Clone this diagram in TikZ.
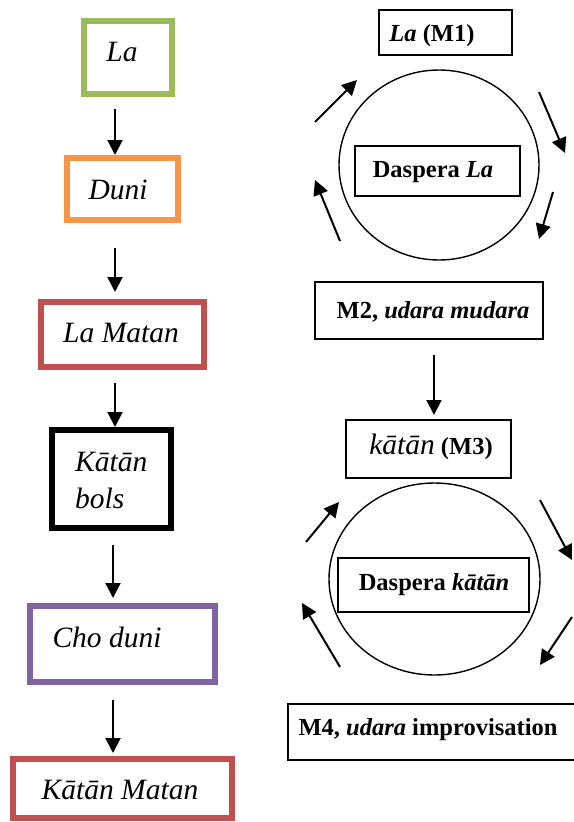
\documentclass[tikz,border=0pt]{standalone}
\usepackage{fontspec}
\setmainfont{Liberation Serif}
\usetikzlibrary{arrows.meta,shapes.geometric}

\definecolor{lagreen}{HTML}{9BBB59}
\definecolor{duniorange}{HTML}{F79646}
\definecolor{matanred}{HTML}{C0504D}
\definecolor{chopurple}{HTML}{8064A2}

\tikzset{
  flowbox/.style={draw, line width=6.5pt, inner sep=0pt, outer sep=0pt},
  thinbox/.style={draw, line width=1.4pt, inner sep=0pt, outer sep=0pt},
  cycle/.style={draw, ellipse, line width=1.4pt, inner sep=0pt},
  bigtext/.style={font=\fontsize{29.5}{34}\selectfont\itshape, inner sep=0pt},
  smalltext/.style={font=\fontsize{24.5}{29}\selectfont\bfseries, inner sep=0pt},
  flowarrow/.style={line width=2pt, -{Triangle[length=15pt,width=15pt]}},
}

\begin{document}
\begin{tikzpicture}[x=1pt,y=-1pt]
\useasboundingbox (0,0) rectangle (573,822);

% ---- left column: sequence of sections ----
\node[flowbox, draw=lagreen, minimum width=88pt, minimum height=73pt] (la) at (128,57.5) {};
\node[bigtext] (latext) at (122,52) {La};

\node[flowbox, draw=duniorange, minimum width=111pt, minimum height=62pt] (duni) at (122.5,189) {};
\node[bigtext] (dunitext) at (118,190) {Duni};

\node[flowbox, draw=matanred, minimum width=163pt, minimum height=65pt] (lamatan) at (122.5,334.5) {};
\node[bigtext] (lamatantext) at (121,333) {La Matan};

\node[flowbox, draw=black, minimum width=119pt, minimum height=98pt] (bols) at (111.5,479) {};
\node[bigtext, anchor=west] (bolstext1) at (75,462) {Kātān};
\node[bigtext, anchor=west] (bolstext2) at (75,498) {bols};

\node[flowbox, draw=chopurple, minimum width=185pt, minimum height=76pt] (choduni) at (122.5,644) {};
\node[bigtext] (chodunitext) at (107,637) {Cho duni};

\node[flowbox, draw=matanred, minimum width=219pt, minimum height=59pt] (katanmatan) at (122.5,788.5) {};
\node[bigtext] (katanmatantext) at (120,790) {Kātān Matan};

\coordinate (a1s) at (115,109); \coordinate (a1e) at (115,155);
\coordinate (a2s) at (115,248); \coordinate (a2e) at (115,292);
\coordinate (a3s) at (115,383); \coordinate (a3e) at (115,427);
\coordinate (a4s) at (113,545); \coordinate (a4e) at (113,598);
\coordinate (a5s) at (113,700); \coordinate (a5e) at (113,753);
\draw[flowarrow] (a1s) -- (a1e);
\draw[flowarrow] (a2s) -- (a2e);
\draw[flowarrow] (a3s) -- (a3e);
\draw[flowarrow] (a4s) -- (a4e);
\draw[flowarrow] (a5s) -- (a5e);

% ---- right column: first cycle ----
\node[thinbox, minimum width=133pt, minimum height=45pt] (m1) at (445.5,32.5) {};
\node[smalltext] (m1text) at (432,36) {\textit{La} (M1)};

\node[cycle, minimum width=200pt, minimum height=190pt] (cycleone) at (439,165) {};
\node[thinbox, minimum width=165pt, minimum height=50pt] (dasperala) at (437.5,171) {};
\node[smalltext] (dasperalatext) at (433,172) {Daspera \textit{La}};

\coordinate (c1a) at (315,122); \coordinate (c1b) at (357,80);
\coordinate (c1c) at (539,92);  \coordinate (c1d) at (565,153);
\coordinate (c1e) at (553,192); \coordinate (c1f) at (539,239);
\coordinate (c1g) at (340,241); \coordinate (c1h) at (315,180);
\draw[flowarrow] (c1a) -- (c1b);
\draw[flowarrow] (c1c) -- (c1d);
\draw[flowarrow] (c1e) -- (c1f);
\draw[flowarrow] (c1g) -- (c1h);

\node[thinbox, minimum width=228pt, minimum height=57pt] (m2) at (429,310.5) {};
\node[smalltext] (m2text) at (433,312) {M2, \textit{udara mudara}};

\coordinate (m2s) at (434,355); \coordinate (m2e) at (434,415);
\draw[flowarrow] (m2s) -- (m2e);

% ---- right column: second cycle ----
\node[thinbox, minimum width=165pt, minimum height=58pt] (m3) at (428.5,449) {};
\node[smalltext] (m3text) at (431,447) {{\fontsize{29.5}{34}\selectfont\mdseries\itshape kātān} (M3)};

\node[cycle, minimum width=211pt, minimum height=192pt] (cycletwo) at (434.5,579) {};
\node[thinbox, minimum width=191pt, minimum height=54pt] (dasperakatan) at (433.5,585) {};
\node[smalltext] (dasperakatantext) at (434,585) {Daspera \textit{kātān}};

\coordinate (c2a) at (306,542); \coordinate (c2b) at (339,502);
\coordinate (c2c) at (540,500); \coordinate (c2d) at (572,560);
\coordinate (c2e) at (572,617); \coordinate (c2f) at (540,665);
\coordinate (c2g) at (340,667); \coordinate (c2h) at (302,603);
\draw[flowarrow] (c2a) -- (c2b);
\draw[flowarrow] (c2c) -- (c2d);
\draw[flowarrow] (c2e) -- (c2f);
\draw[flowarrow] (c2g) -- (c2h);

\node[thinbox, minimum width=302pt, minimum height=56pt] (m4) at (439,732) {};
\node[smalltext] (m4text) at (428,730) {M4, \textit{udara} improvisation};
\end{tikzpicture}
\end{document}
